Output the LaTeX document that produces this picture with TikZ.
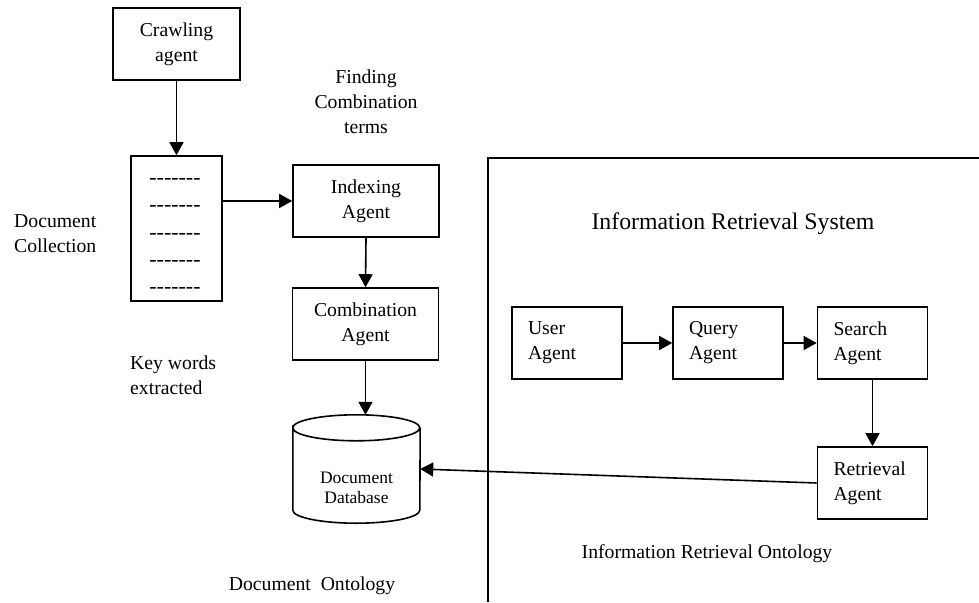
\documentclass[tikz,border=0pt]{standalone}
\usepackage{fontspec}
\setmainfont{Liberation Serif}
\usetikzlibrary{arrows.meta}
\begin{document}
\begin{tikzpicture}[x=1pt,y=-1pt,
  every node/.style={font=\fontsize{19.7}{25}\selectfont},
  box/.style={draw,line width=1.6pt,inner sep=0pt,align=center},
  agent/.style={draw,line width=1.6pt,minimum height=72pt,inner xsep=16pt,inner ysep=0pt,text width=78pt,align=left},
  arr/.style={line width=1.6pt,-{Triangle[length=13pt,width=14pt]}},
  lbl/.style={align=left,inner sep=0pt},
  dashtext/.style={inner sep=0pt,font=\fontsize{22}{22}\selectfont}
]
\useasboundingbox (0,0) rectangle (979,602);
% left part
\node[box,minimum width=127pt,minimum height=72pt] (crawl) at (176.5,44) {Crawling\\agent};
\node[box,minimum width=91pt,minimum height=145pt] (doc) at (176.5,228.5) {};
\foreach \y [count=\i] in {181,208,236,263,290}
  \node[dashtext] (d\i) at (175,\y) {-{}-{}-{}-{}-{}-{}-};
\node[box,minimum width=146pt,minimum height=72pt] (idx) at (366,201) {Indexing\\Agent};
\node[box,minimum width=146pt,minimum height=72pt] (comb) at (365.5,324) {Combination\\Agent};
\node[lbl,align=center] (find) at (366,101.5) {Finding\\Combination\\terms};
\node[lbl,anchor=west] (dcol) at (14,233.5) {Document\\Collection};
\node[lbl,anchor=west] (kw) at (130,375) {Key words\\extracted};
\node[lbl] (dont) at (312,586) {Document\ \ Ontology};
% database cylinder
\node[minimum width=127pt,minimum height=108pt,inner sep=0pt] (db) at (356.5,469) {};
\draw[line width=1.6pt] ([yshift=-13pt]db.north west) arc[start angle=180,end angle=-180,x radius=63.5pt,y radius=13pt]
  -- ([yshift=13pt]db.south west) arc[start angle=180,end angle=360,x radius=63.5pt,y radius=13pt]
  -- ([yshift=-13pt]db.north east);
\node[lbl,align=center,font=\fontsize{17.5}{20}\selectfont] (dbt) at (356.5,488) {Document\\Database};
% right part
\coordinate (c1) at (979,158);
\coordinate (c2) at (488,158);
\coordinate (c3) at (488,602);
\draw[line width=1.6pt] (c1) -- (c2) -- (c3);
\node[lbl,font=\fontsize{23.8}{28}\selectfont] (irs) at (733,224) {Information Retrieval System};
\node[agent] (user) at (567,343) {User\\Agent};
\node[agent] (query) at (728,343) {Query\\Agent};
\node[agent] (search) at (872.5,343) {Search\\Agent};
\node[agent] (ret) at (872.5,483) {Retrieval\\Agent};
\node[lbl] (iro) at (707,554) {Information Retrieval Ontology};
% arrows
\draw[arr] (crawl.south) -- (doc.north);
\draw[arr] (doc.east |- idx.west) -- (idx.west);
\draw[arr] (idx.south) -- (comb.north);
\draw[arr] (comb.south) -- (comb.south |- db.north);
\draw[arr] (user.east) -- (query.west);
\draw[arr] (query.east) -- (search.west);
\draw[arr] (search.south) -- (ret.north);
\draw[arr] (ret.west) -- (db.east);
\end{tikzpicture}
\end{document}
